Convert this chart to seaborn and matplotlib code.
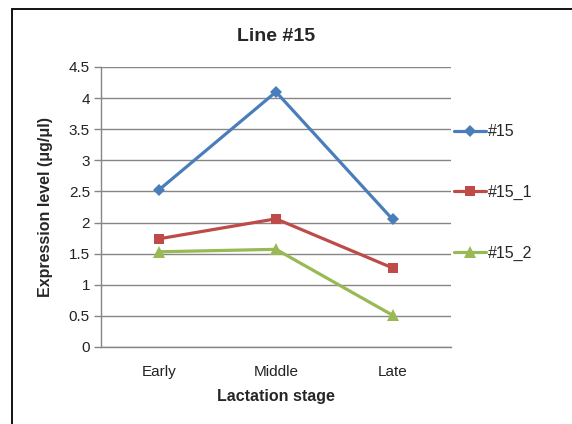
import matplotlib
matplotlib.use("Agg")
import matplotlib.pyplot as plt
import seaborn as sns
import pandas as pd
from matplotlib.patches import Rectangle
from matplotlib.lines import Line2D

stages = ["Early", "Middle", "Late"]
series_names = ["#15", "#15_1", "#15_2"]
vals_15 = [2.53, 4.10, 2.05]
vals_15_1 = [1.74, 2.06, 1.27]
vals_15_2 = [1.53, 1.57, 0.51]
y_ticks = [0, 0.5, 1, 1.5, 2, 2.5, 3, 3.5, 4, 4.5]
y_tick_labels = ["0", "0.5", "1", "1.5", "2", "2.5", "3", "3.5", "4", "4.5"]

colors = {"#15": "#4A7EBB", "#15_1": "#BE4B48", "#15_2": "#98B954"}
markers = {"#15": "D", "#15_1": "s", "#15_2": "^"}
msizes = {"#15": 6, "#15_1": 7.5, "#15_2": 8}

df = pd.DataFrame({
    "stage": stages * 3,
    "x": list(range(3)) * 3,
    "value": vals_15 + vals_15_1 + vals_15_2,
    "series": [s for s in series_names for _ in stages],
})

sns.set_theme(style="white")
plt.rcParams["font.family"] = ["Liberation Sans", "DejaVu Sans"]

fig = plt.figure(figsize=(5.72, 4.24), dpi=100)
ax = fig.add_axes([101/572, 1-347/424, 350/572, 280/424])

for s in series_names:
    sub = df[df.series == s]
    sns.lineplot(data=sub, x="x", y="value", ax=ax, color=colors[s],
                 marker=markers[s], markersize=msizes[s], markeredgewidth=0,
                 linewidth=2.3, sort=False, legend=False)

ax.set_xlim(-0.5, 2.5)
ax.set_ylim(0, 4.5)
ax.set_yticks(y_ticks)
ax.set_yticklabels(y_tick_labels, fontsize=11, color="#222222")
ax.set_xticks(range(3))
ax.set_xticklabels(stages, fontsize=11, color="#222222")
ax.set_xticks([-0.5, 0.5, 1.5, 2.5], minor=True)
ax.tick_params(axis="x", which="major", length=0, pad=13)
ax.tick_params(axis="x", which="minor", length=5, width=1, color="#868686", direction="out")
ax.tick_params(axis="y", which="major", length=5, width=1, color="#868686", direction="out", pad=3, left=True)
ax.yaxis.grid(True, color="#868686", linewidth=1)
ax.set_axisbelow(True)
for side in ["top", "right"]:
    ax.spines[side].set_visible(False)
for side in ["left", "bottom"]:
    ax.spines[side].set_color("#868686")
    ax.spines[side].set_linewidth(1)

ax.set_xlabel("Lactation stage", fontsize=11.5, fontweight="bold", labelpad=7)
ax.set_ylabel("Expression level (μg/μl)", fontsize=11.5, fontweight="bold", labelpad=11)
ax.set_title("Line #15", fontsize=14, fontweight="bold", pad=19)

handles = [Line2D([0], [0], color=colors[s], marker=markers[s], markersize=msizes[s],
                  markeredgewidth=0, linewidth=2.3) for s in series_names]
leg = fig.legend(handles, series_names, loc="upper left",
                 bbox_to_anchor=(448/572, 1-118/424), frameon=False,
                 fontsize=11.5, handlelength=2.0, handletextpad=0.1,
                 labelspacing=2.85, borderaxespad=0)

fig.patches.append(Rectangle((12/572, -0.1), 1.2, (424-9)/424 + 0.1,
                             transform=fig.transFigure, fill=False,
                             edgecolor="black", linewidth=1.3))

fig.savefig("out.png", dpi=100)
